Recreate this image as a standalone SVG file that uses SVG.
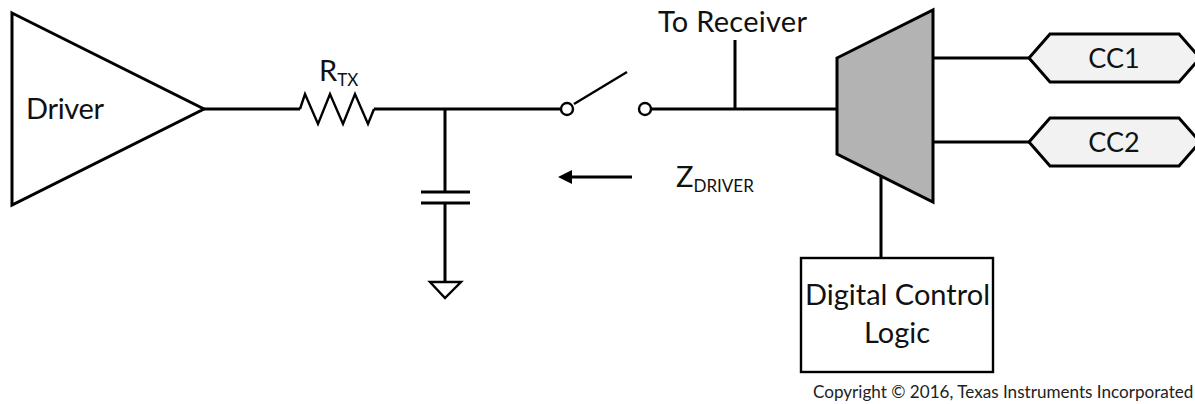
<svg xmlns="http://www.w3.org/2000/svg" width="1195" height="404" viewBox="0 0 1195 404">
<style>
.s{fill:none;stroke:#000;stroke-width:3}
.n{fill:none;stroke:#000;stroke-width:2.4}
.t{font-family:Lato,"Liberation Sans",sans-serif;font-size:29px;fill:#111}
.m{text-anchor:middle}
.sub{font-size:17px}
</style>
<rect width="1195" height="404" fill="#fff"/>
<g id="connectors">
<path class="s" d="M204 109H300M374 109H561"/>
<path class="n" d="M300 109L305 94L318 124L330 94L343 124L355 94L368 124L374 109"/>
<path class="s" d="M445 109V192M445 203V282"/>
<path class="s" d="M421 192H470M421 203H470"/>
<path class="s" d="M651 109H837M735 40V109"/>
<path class="n" d="M574 104L627 72"/>
<path class="s" d="M632 177H570"/>
<path d="M558 177L572 170V184Z" fill="#000"/>
<path class="s" d="M933 58H1029M933 142H1029M881 177V258"/>
</g>
<g id="driver"><path class="s" d="M12 13L204 109L12 205Z"/><text class="t" x="26" y="119" textLength="78">Driver</text></g>
<g id="rtx-label"><text class="t" x="319" y="81">R<tspan class="sub" dy="5">TX</tspan></text></g>
<g id="ground"><path class="n" d="M430 282H461L445 298Z"/></g>
<g id="switch"><circle class="n" cx="567" cy="109" r="6"/><circle class="n" cx="645" cy="109" r="6"/></g>
<g id="receiver-label"><text class="t" x="658" y="32" textLength="149">To Receiver</text></g>
<g id="zdriver-label"><text class="t" x="676" y="187">Z<tspan class="sub" dy="5">DRIVER</tspan></text></g>
<g id="mux"><path d="M837 58L933 10V202L837 154Z" fill="#b3b3b3" stroke="#000" stroke-width="3"/></g>
<g id="cc1"><path d="M1029 58L1050 34H1179L1200 58L1179 82H1050Z" fill="#f2f2f2" stroke="#000" stroke-width="3"/><text class="t m" x="1114" y="68" style="font-size:27px">CC1</text></g>
<g id="cc2"><path d="M1029 142L1050 118H1179L1200 142L1179 166H1050Z" fill="#f2f2f2" stroke="#000" stroke-width="3"/><text class="t m" x="1114" y="152" style="font-size:27px">CC2</text></g>
<g id="logic"><rect class="n" x="801" y="258" width="192" height="114"/><text class="t" x="805" y="305" textLength="185">Digital Control</text><text class="t m" x="897" y="343">Logic</text></g>
<g id="copyright"><text x="813" y="398" style="font-family:Lato,'Liberation Sans',sans-serif;font-size:17.1px;fill:#222">Copyright © 2016, Texas Instruments Incorporated</text></g>
</svg>
